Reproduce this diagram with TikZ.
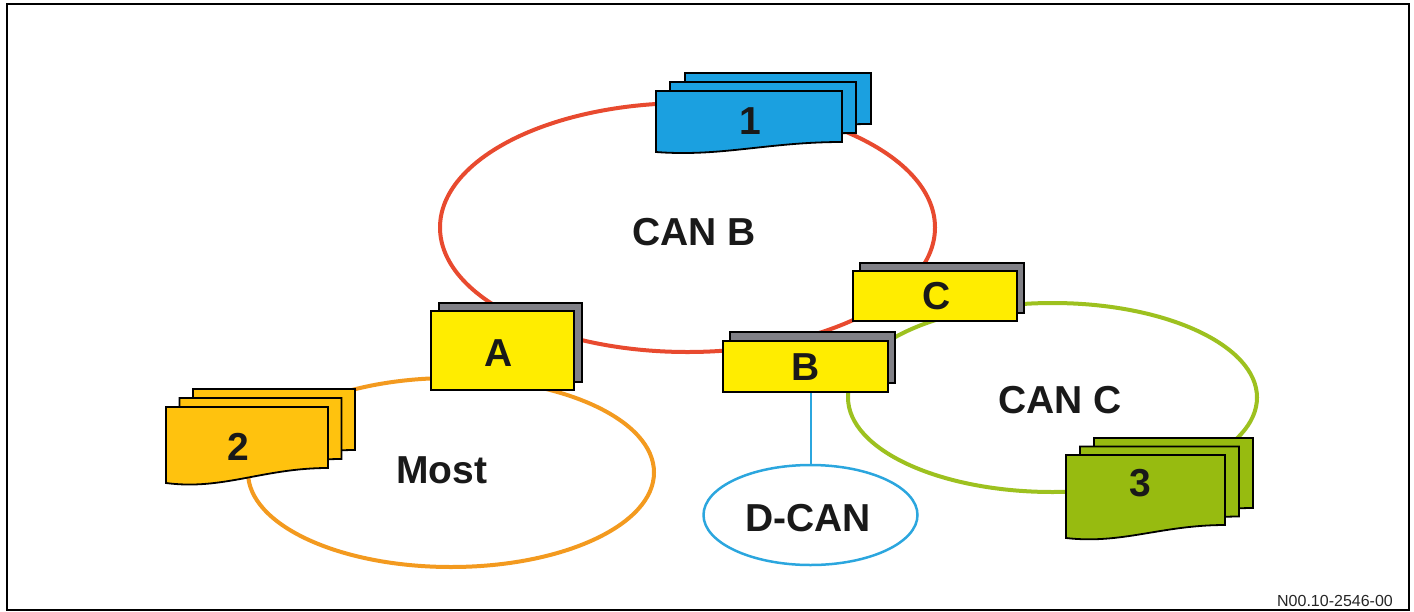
\documentclass[tikz,border=0pt]{standalone}
\usepackage{fontspec}
\setmainfont{Liberation Sans}
\usetikzlibrary{shapes.geometric}
\definecolor{canbred}{HTML}{E84A2F}
\definecolor{mostorange}{HTML}{F39A1F}
\definecolor{cancgreen}{HTML}{9DC11F}
\definecolor{dcanblue}{HTML}{2BA6DE}
\definecolor{docblue}{HTML}{1BA0E0}
\definecolor{docgold}{HTML}{FFC20E}
\definecolor{docgreen}{HTML}{97BB10}
\definecolor{gwyellow}{HTML}{FFED00}
\definecolor{gwgray}{HTML}{808086}
\newcommand\mydoc[6]{%
  \filldraw[fill=#1, draw=black, line width=1.8]
    (#2,#3) -- ({#2+#4},#3) -- ({#2+#4},{#3+#6})
    .. controls ({#2+0.6*#4},{#3+#6}) and ({#2+0.35*#4},{#3+#5+0.5*(#5-#6)}) ..
    (#2,{#3+#5}) -- cycle;}
\begin{document}
\begin{tikzpicture}[x=1pt,y=-1pt,
  bus/.style={ellipse, draw, inner sep=0pt, outer sep=0pt, line width=4},
  lab/.style={font=\fontsize{39}{39}\selectfont\bfseries, inner sep=0pt, text=black!90},
  gwfront/.style={rectangle, draw=black, line width=1.8, fill=gwyellow, inner sep=0pt},
  gwback/.style={rectangle, draw=black, line width=1.8, fill=gwgray, inner sep=0pt}]
\useasboundingbox (0,0) rectangle (1414,611);
\draw[line width=2.5] (7,4) rectangle (1409,610);
% buses
\node[bus, draw=canbred, minimum width=495, minimum height=249] (canb) at (687.5,227.5) {};
\node[bus, draw=mostorange, minimum width=406, minimum height=189] (most) at (451,472.5) {};
\node[bus, draw=cancgreen, minimum width=409, minimum height=189] (canc) at (1052.5,397.5) {};
\node[bus, draw=dcanblue, line width=2.5, minimum width=214, minimum height=100] (dcan) at (810.5,515) {};
% document stacks
\mydoc{docblue}{685}{73}{186}{61}{51}
\mydoc{docblue}{670}{82}{186}{61}{51}
\mydoc{docblue}{656}{91}{186}{61}{51}
\mydoc{docgold}{193}{389}{162}{76}{61}
\mydoc{docgold}{179.5}{398}{162}{76}{61}
\mydoc{docgold}{166}{407}{162}{76}{61}
\mydoc{docgreen}{1094}{438}{159}{83}{70}
\mydoc{docgreen}{1080}{446.5}{159}{83}{70}
\mydoc{docgreen}{1066}{455}{159}{83}{70}
% gateways
\node[gwback, minimum width=143, minimum height=79] (Ab) at (510.5,342.5) {};
\node[gwfront, minimum width=143, minimum height=79] (A) at (502.5,350.5) {};
\node[gwback, minimum width=165, minimum height=51] (Bb) at (812.5,357.5) {};
\node[gwfront, minimum width=165, minimum height=51] (B) at (805.5,366.5) {};
\node[gwback, minimum width=164, minimum height=50] (Cb) at (942,288) {};
\node[gwfront, minimum width=164, minimum height=50] (C) at (935,296) {};
\draw[dcanblue, line width=2] (dcan.north) -- (dcan.north |- B.south);
% labels
\node[lab] (l1) at (750,121) {1};
\node[lab] (l2) at (238,447) {2};
\node[lab] (l3) at (1140,483) {3};
\node[lab] (lA) at (499,353) {A};
\node[lab] (lB) at (806,367) {B};
\node[lab] (lC) at (937,296) {C};
\node[lab] (lcanb) at (694,232) {CAN B};
\node[lab] (lmost) at (442,470) {Most};
\node[lab] (lcanc) at (1060,400) {CAN C};
\node[lab] (ldcan) at (808,518.5) {D-CAN};
\node[font=\fontsize{16}{16}\selectfont, inner sep=0pt, text=black!85] (code) at (1335,601) {N00.10-2546-00};
\end{tikzpicture}
\end{document}
